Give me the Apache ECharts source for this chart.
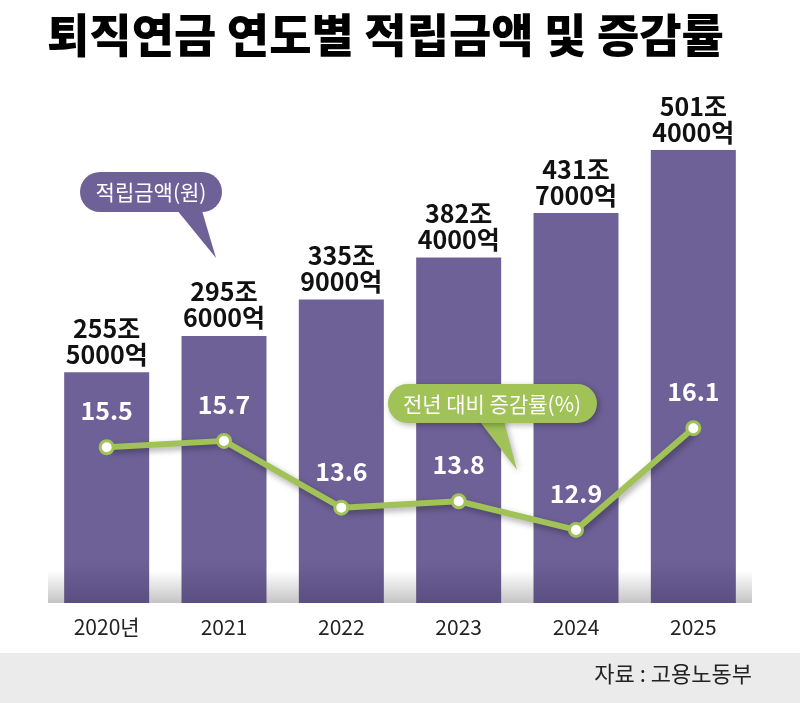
<!DOCTYPE html>
<html>
<head>
<meta charset="utf-8">
<script src="https://cdn.jsdelivr.net/npm/echarts@6/dist/echarts.min.js"></script>
<style>
html,body{margin:0;padding:0;background:#fff;}
#main{width:800px;height:703px;}
</style>
</head>
<body>
<div id="main"></div>
<script>
// 연도, 적립금액(조/억), 증감률
var years = ['2020년', '2021', '2022', '2023', '2024', '2025'];
var amountJo = [255, 295, 335, 382, 431, 501];
var amountEok = [5000, 6000, 9000, 4000, 7000, 4000];
var growthRate = [15.5, 15.7, 13.6, 13.8, 12.9, 16.1];

var barValues = amountJo.map(function (j, i) { return j + amountEok[i] / 10000; });

var narrow = "'Liberation Sans Narrow','Noto Sans CJK KR',sans-serif";
var kr = "'Noto Sans CJK KR',sans-serif";
var purple = '#6e6197';
var green = '#a0c257';
var calloutShadow = {shadowBlur: 6, shadowColor: 'rgba(0,0,0,0.3)', shadowOffsetX: 2, shadowOffsetY: 2};

var chart = echarts.init(document.getElementById('main'));

var option = {
    backgroundColor: '#fff',
    animation: false,
    title: {
        text: '퇴직연금 연도별 적립금액 및 증감률',
        left: 42,
        top: 7,
        textStyle: {
            fontFamily: kr,
            fontWeight: 900,
            fontSize: 46,
            color: '#000'
        }
    },
    grid: {
        left: 48,
        right: 48,
        top: 61,
        bottom: 100
    },
    xAxis: {
        type: 'category',
        data: years,
        axisLine: {show: false},
        axisTick: {show: false},
        axisLabel: {
            margin: 14,
            fontFamily: narrow,
            fontSize: 21,
            color: '#222'
        }
    },
    yAxis: [
        {type: 'value', min: 0, max: 600, show: false, splitLine: {show: false}},
        {type: 'value', min: 10.6, max: 27.65, show: false, splitLine: {show: false}}
    ],
    graphic: [
        {
            type: 'rect',
            zlevel: 0,
            z: 0,
            shape: {x: 48, y: 571, width: 704, height: 32},
            style: {
                fill: new echarts.graphic.LinearGradient(0, 0, 0, 1, [
                    {offset: 0, color: 'rgba(255,255,255,1)'},
                    {offset: 1, color: '#c4c4c4'}
                ])
            }
        },
        {
            type: 'rect',
            zlevel: 0,
            shape: {x: 0, y: 653, width: 800, height: 50},
            style: {fill: '#ebebeb'}
        },
        {
            type: 'text',
            zlevel: 0,
            z: 1,
            right: 48,
            top: 663,
            style: {
                text: '자료 : 고용노동부',
                fontFamily: narrow,
                fontSize: 22,
                fill: '#222'
            }
        },
        // 적립금액 말풍선
        {type: 'polygon', zlevel: 2, shape: {points: [[172, 204], [200, 204], [216, 258]]}, style: {fill: purple}},
        {type: 'rect', zlevel: 2, shape: {x: 80, y: 172, width: 142, height: 40, r: 20}, style: {fill: purple}},
        {
            type: 'text',
            zlevel: 2,
            z: 1,
            style: {
                x: 151, y: 192, text: '적립금액(원)',
                align: 'center', verticalAlign: 'middle',
                fontFamily: kr, fontSize: 21, fill: '#fff'
            }
        },
        // 증감률 말풍선
        {type: 'polygon', zlevel: 2, shape: {points: [[474, 414], [502, 414], [517, 470]]}, style: Object.assign({fill: green}, calloutShadow)},
        {type: 'rect', zlevel: 2, shape: {x: 388, y: 384, width: 209, height: 39, r: 20}, style: Object.assign({fill: green}, calloutShadow)},
        {
            type: 'text',
            zlevel: 2,
            z: 1,
            style: {
                x: 492, y: 404, text: '전년 대비 증감률(%)',
                align: 'center', verticalAlign: 'middle',
                fontFamily: kr, fontSize: 21, fill: '#fff'
            }
        }
    ],
    series: [
        {
            name: '적립금액',
            type: 'bar',
            zlevel: 1,
            z: 2,
            barWidth: 85,
            data: barValues,
            itemStyle: {
                color: new echarts.graphic.LinearGradient(0, 560, 0, 603, [
                    {offset: 0, color: purple},
                    {offset: 1, color: '#5b4e82'}
                ], true)
            },
            label: {
                show: true,
                position: 'top',
                distance: 5,
                formatter: function (p) {
                    return amountJo[p.dataIndex] + '조\n' + amountEok[p.dataIndex] + '억';
                },
                fontFamily: narrow,
                fontWeight: 'bold',
                fontSize: 25,
                lineHeight: 26,
                color: '#111'
            }
        },
        {
            name: '증감률',
            type: 'line',
            yAxisIndex: 1,
            zlevel: 1,
            z: 5,
            data: growthRate,
            symbol: 'circle',
            symbolSize: 13,
            lineStyle: {
                color: green,
                width: 6,
                shadowBlur: 6,
                shadowColor: 'rgba(0,0,0,0.35)',
                shadowOffsetX: 2,
                shadowOffsetY: 3
            },
            itemStyle: {
                color: '#fff',
                borderColor: green,
                borderWidth: 3
            },
            label: {
                show: true,
                position: 'top',
                distance: 16,
                fontFamily: narrow,
                fontWeight: 'bold',
                fontSize: 25,
                color: '#fff',
                formatter: function (p) { return p.value.toFixed(1); }
            }
        }
    ]
};

chart.setOption(option);

window.addEventListener('resize', function () {
    chart.resize();
});
</script>
</body>
</html>
